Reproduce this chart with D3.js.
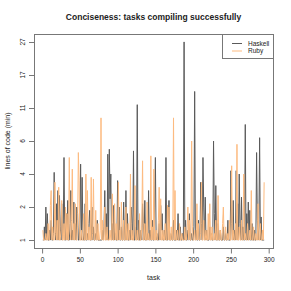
<!DOCTYPE html>
<html>
<head>
<meta charset="utf-8">
<script src="https://cdn.jsdelivr.net/npm/d3@7"></script>
<style>
  body { margin: 0; background: #fff; }
  text { font-family: "Liberation Sans", Arial, sans-serif; fill: #222; }
</style>
</head>
<body>
<div id="chart"></div>
<script>
// lines of code per task (task 1..294)
const haskell = [
  1,1,1.4,1,2.0,1,1.8,1,1,1.3,1,1.6,1,1,1.2,4.1,1.5,1,2.2,1,
  3.0,1,2.7,1.4,1,2.2,1,1.3,5.0,1,1,1.8,1,2.4,1,1,1.5,3.0,1,1.3,
  1,2.3,1,1.5,1,2.0,1.8,1,1,1.4,4.6,1,3.8,1.3,1,1,2.2,1,1,1.2,
  1,1.5,1.9,1,1,2.0,1,1.4,1,1,1.2,1,1.6,1,1,1,1,1,1,1.3,
  1,1.4,3.0,1,1.8,1,5.2,1,5.5,2.5,4.0,1,1.5,1,2.1,1,1.2,1,1,3.6,
  1,2.0,1,1,1.4,1,1,2.3,1,1,3.0,1,1.8,1,1,1.3,1,2.0,1.5,1,
  5.4,1,1,1.4,1,11.6,1,1.6,1,1,1.3,1,2.2,1.5,1,2.4,1,1,1.2,1,
  3.0,1,1.3,1,1,1.6,1,1,2.0,5.0,1,1.2,1,1,1.5,1,2.1,1.3,1.8,1,
  1,1.3,1,5.0,1,1,1.5,2.4,1,1,1.2,1,1,1.6,1,1,1,1.3,1,1.8,
  1,1,1.4,1,1,1.2,1,27,1,1.6,1,1,1.3,1,1.8,1,1,1.2,1,1,
  1.4,14,1,1.3,1,1,1.6,1,1,3.5,1.5,1,5.0,2.0,1,2.6,1,1.3,1,1,
  1,1.4,1,1.2,1,1,6.0,1.8,1,3.3,1,1,1.5,1,1,1.3,1,1,1,1.4,
  1,1,1.2,1,1,1.6,1,1,1,4.2,1.5,1,2.4,1,1.3,1,4.2,1,2.2,1,
  4.0,1.5,1,2.6,1,1.4,1,1,8.5,1,1.8,1,2.3,1,1.9,1,1,1.5,1,1,
  1.3,1,1,5.3,1.6,1,1.4,6.5,1,1.7,1,1,1,1
];
const ruby = [
  1.3,1,1,1,1.2,1,1,1.5,1,1,2.1,3.0,1,1.4,1,1,3.5,1.2,1,1.6,
  1,3.2,1,1,1.3,2.4,1,1,1.5,1,2.0,1,1.8,1,1,5.0,1.3,1,1.6,4.3,
  1,1.5,1,2.2,1,1,1.4,5.3,3.6,1,1,1.3,1,1,1.8,1,1,4.0,1,3.0,
  1,1.4,1,1,3.8,1,1.2,3.7,1,1,1.9,1,1,1.5,1,1,1.3,9.5,1,1.6,
  1,1,2.0,1,1,1.4,1,1,1,1.3,1,1,2.8,1,1,2.2,1,1.5,1,1,
  3.5,1,1.3,1,2.3,1,1,1.6,1,1,2.0,1,1,1.5,1,1,4.0,1,1.3,1,
  1,1.6,3.3,1,1,1.3,1,1,1.8,1,1,1.4,4.8,1,1,1.5,1,1,2.3,1,
  1.2,1,1,5.1,1,1.4,1,4.3,1,1,1.3,1,1,1.6,3.2,1,2.5,1,1,1.3,
  1,1,1.5,1,1,2.1,1,2.0,1,1,1.4,1,1,9.5,1,3.0,1,1,1.3,1,
  1,1.5,1,1,1.2,1,1,1,1.4,1,1,1.3,2.0,1,1.6,1,1,6.0,1.4,1,
  1,1.3,1,1,2.2,1,1.5,1,1,1.2,3.5,1,1,1.6,1,1,1.3,1,1,1.8,
  1,2.2,1,1,1.4,1,1,1.2,1,1.6,1,1,2.7,1,1,1.3,1,1,1.5,2.0,
  1,1,1.4,1,1,1.2,1,1.6,1,1,4.5,1,1.3,1,1,1.5,1,5.8,1,1,
  1.4,1,1,1.6,1,1,4.0,1,1.2,1,1,1.5,1,1,1.3,1,3.0,1,1,1.4,
  1,1,1.2,1,1,2.2,1,1,1.5,1,1,1.3,1,3.5
];
const yTicks = [1, 2, 4, 6, 11, 17, 27];
const xTicks = [0, 50, 100, 150, 200, 250, 300];
const seriesNames = ["Haskell", "Ruby"];
const seriesColors = ["#5a5a5a", "#fdbb80"];

const W = 291, H = 291;
const pLeft = 34, pRight = 273, pTop = 34, pBottom = 248;
const n = haskell.length;

const svg = d3.select("#chart").append("svg")
    .attr("width", W)
    .attr("height", H);

// R style 4% padding
const pad = 0.04 * (n - 1);
const x = d3.scaleLinear().domain([1 - pad, n + pad]).range([pLeft, pRight]);

// tick values are spaced evenly on the axis
const yIdx = d3.scaleLinear().domain(yTicks).range(d3.range(yTicks.length));
const yPos = d3.scaleLinear()
    .domain([-0.04 * (yTicks.length - 1), (yTicks.length - 1) * 1.04])
    .range([pBottom, pTop]);
const y = v => yPos(yIdx(v));

const line = d3.line()
    .x((d, i) => x(i + 1))
    .y(d => y(d));

[haskell, ruby].forEach((s, k) => {
    svg.append("path")
        .datum(s)
        .attr("fill", "none")
        .attr("stroke", seriesColors[k])
        .attr("stroke-width", 1)
        .attr("d", line);
});

// frame
svg.append("rect")
    .attr("x", pLeft + 0.5).attr("y", pTop + 0.5)
    .attr("width", pRight - pLeft).attr("height", pBottom - pTop)
    .attr("fill", "none")
    .attr("stroke", "#777");

// x axis
const xAxis = svg.append("g")
    .attr("transform", `translate(0,${pBottom + 0.5})`)
    .call(d3.axisBottom(x).tickValues(xTicks).tickSize(5).tickSizeOuter(0).tickPadding(4));
xAxis.select(".domain").attr("stroke", "#777")
    .attr("d", `M${x(0)},0H${x(300)}`);
xAxis.selectAll(".tick line").attr("stroke", "#777");
xAxis.selectAll("text").style("font-size", "6.5px").style("font-family", "Liberation Sans, Arial").attr("fill", "#222");

// y axis
const yAxis = svg.append("g")
    .attr("transform", `translate(${pLeft},0)`);
yAxis.append("line")
    .attr("x1", 0.5).attr("x2", 0.5)
    .attr("y1", y(1)).attr("y2", y(27))
    .attr("stroke", "#777");
yAxis.selectAll(".yt")
    .data(yTicks)
    .join("line")
    .attr("x1", -5).attr("x2", 0.5)
    .attr("y1", d => Math.round(y(d)) + 0.5).attr("y2", d => Math.round(y(d)) + 0.5)
    .attr("stroke", "#777");
yAxis.selectAll(".yl")
    .data(yTicks)
    .join("text")
    .attr("transform", d => `translate(-9,${y(d)}) rotate(-90)`)
    .attr("text-anchor", "middle")
    .style("font-size", "6.5px")
    .text(d => d);

// titles
svg.append("text")
    .attr("x", (pLeft + pRight) / 2).attr("y", 19.5)
    .attr("text-anchor", "middle")
    .style("font-size", "8.5px")
    .style("font-weight", "bold")
    .text("Conciseness: tasks compiling successfully");

svg.append("text")
    .attr("x", (pLeft + pRight) / 2).attr("y", 280)
    .attr("text-anchor", "middle")
    .style("font-size", "7px")
    .text("task");

svg.append("text")
    .attr("transform", `translate(10,${(pTop + pBottom) / 2}) rotate(-90)`)
    .attr("text-anchor", "middle")
    .style("font-size", "7px")
    .text("lines of code (min)");

// legend
const lg = svg.append("g");
lg.append("rect")
    .attr("x", 222.5).attr("y", pTop + 0.5)
    .attr("width", pRight - 222).attr("height", 24)
    .attr("fill", "#fff")
    .attr("stroke", "#777");
seriesNames.forEach((name, k) => {
    const ly = 43.5 + k * 7.5;
    lg.append("line")
        .attr("x1", 232).attr("x2", 242)
        .attr("y1", ly).attr("y2", ly)
        .attr("stroke", seriesColors[k]);
    lg.append("text")
        .attr("x", 248).attr("y", ly + 2.3)
        .style("font-size", "6.5px")
        .text(name);
});
</script>
</body>
</html>
